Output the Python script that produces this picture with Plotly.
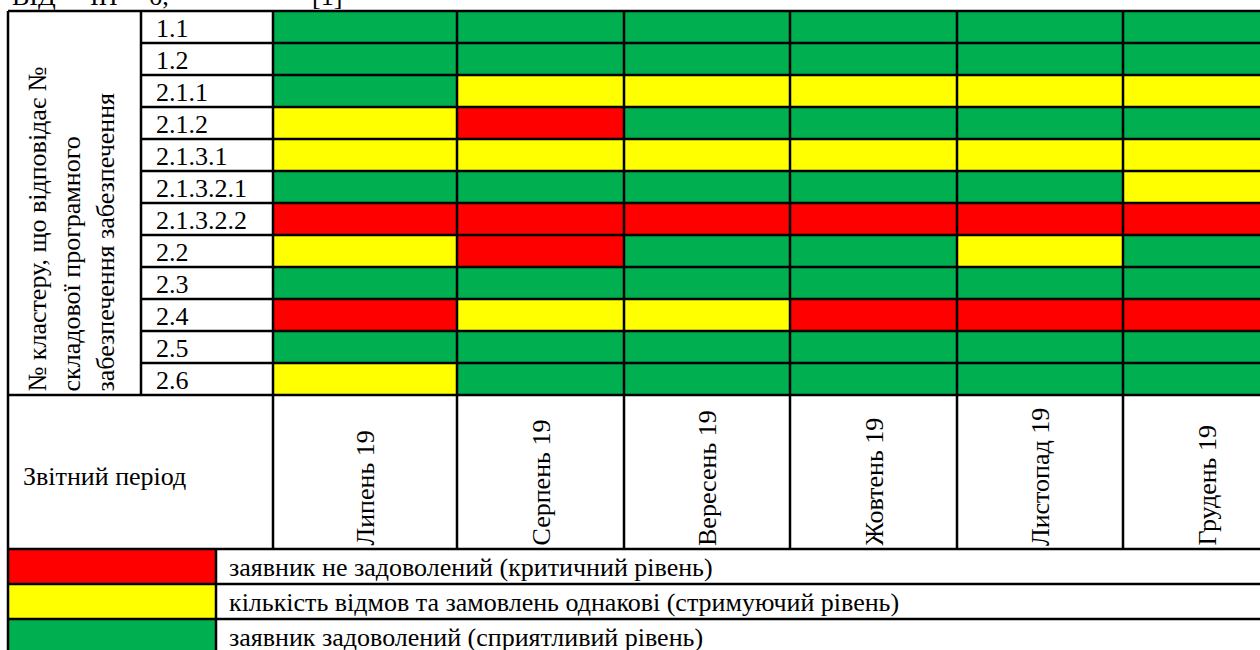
import plotly.graph_objects as go

# ---------------- data ----------------
months = ["Липень 19", "Серпень 19", "Вересень 19", "Жовтень 19", "Листопад 19", "Грудень 19"]
clusters = ["1.1", "1.2", "2.1.1", "2.1.2", "2.1.3.1", "2.1.3.2.1", "2.1.3.2.2",
            "2.2", "2.3", "2.4", "2.5", "2.6"]
# R = critical, Y = restraining, G = favourable
status = [
    ["G", "G", "G", "G", "G", "G"],
    ["G", "G", "G", "G", "G", "G"],
    ["G", "Y", "Y", "Y", "Y", "Y"],
    ["Y", "R", "G", "G", "G", "G"],
    ["Y", "Y", "Y", "Y", "Y", "Y"],
    ["G", "G", "G", "G", "G", "Y"],
    ["R", "R", "R", "R", "R", "R"],
    ["Y", "R", "G", "G", "Y", "G"],
    ["G", "G", "G", "G", "G", "G"],
    ["R", "Y", "Y", "R", "R", "R"],
    ["G", "G", "G", "G", "G", "G"],
    ["Y", "G", "G", "G", "G", "G"],
]
legend_levels = ["R", "Y", "G"]
legend_labels = [
    "заявник не задоволений (критичний рівень)",
    "кількість відмов та замовлень однакові (стримуючий рівень)",
    "заявник задоволений (сприятливий рівень)",
]
y_title_lines = ["№ кластеру, що відповідає №", "складової програмного", "забезпечення забезпечення"]
period_label = "Звітний період"

# ---------------- layout constants ----------------
W, H = 1260, 650
FONT = "Liberation Serif, Times New Roman, serif"
FS = 26
code = {"R": 0, "Y": 1, "G": 2}
RED, YEL, GRN = "#FF0000", "#FFFF00", "#00B050"
cscale = [[0, RED], [1/3, RED], [1/3, YEL], [2/3, YEL], [2/3, GRN], [1, GRN]]

x_left = 8
x_lab = 141
x_grid = 273
col_w = [184, 167, 166, 167, 166, 167]
x_edges = [x_grid]
for w in col_w:
    x_edges.append(x_edges[-1] + w)
y_top = 11
row_h = 32
y_edges = [y_top + i * row_h for i in range(len(clusters) + 1)]
y_head_bot = 549
leg_h = 35
leg_edges = [y_head_bot + i * leg_h for i in range(len(legend_levels) + 1)]
x_leg = 216

fig = go.Figure()

fig.add_trace(go.Heatmap(
    x=x_edges, y=y_edges,
    z=[[code[s] for s in row] for row in status],
    colorscale=cscale, zmin=0, zmax=2, showscale=False, hoverinfo="skip",
))
fig.add_trace(go.Heatmap(
    x=[x_left, x_leg], y=leg_edges,
    z=[[code[s]] for s in legend_levels],
    colorscale=cscale, zmin=0, zmax=2, showscale=False, hoverinfo="skip",
))

shapes = []
def line(x0, y0, x1, y1):
    shapes.append(dict(type="line", x0=x0, y0=y0, x1=x1, y1=y1, xref="x", yref="y",
                       line=dict(color="black", width=2.5), layer="above"))

# horizontal lines
line(x_left, y_top, W + 40, y_top)
for y in y_edges[1:-1]:
    line(x_lab, y, W + 40, y)
line(x_left, y_edges[-1], W + 40, y_edges[-1])
for y in leg_edges[:-1]:
    line(x_left, y, W + 40, y)
# vertical lines
line(x_left, y_top, x_left, H + 20)
line(x_lab, y_top, x_lab, y_edges[-1])
for x in x_edges[:-1]:
    line(x, y_top, x, y_head_bot)
line(x_leg, y_head_bot, x_leg, H + 20)

ann = []
# row labels
for i, c in enumerate(clusters):
    ann.append(dict(x=x_lab + 13, y=(y_edges[i] + y_edges[i + 1]) / 2 + 1, text=c,
                    xanchor="left", yanchor="middle", showarrow=False,
                    font=dict(family=FONT, size=FS, color="black")))
# rotated left title
for xc, t in zip([37, 71, 105], y_title_lines):
    ann.append(dict(x=xc, y=y_edges[-1] - 1, text=t, textangle=-90,
                    xanchor="center", yanchor="bottom", showarrow=False,
                    font=dict(family=FONT, size=FS, color="black")))
# period label
ann.append(dict(x=x_left + 13, y=(y_edges[-1] + y_head_bot) / 2 + 4, text=period_label,
                xanchor="left", yanchor="middle", showarrow=False,
                font=dict(family=FONT, size=FS, color="black")))
# month labels
for j, m in enumerate(months):
    ann.append(dict(x=(x_edges[j] + x_edges[j + 1]) / 2, y=y_head_bot - 1, text=m,
                    textangle=-90, xanchor="center", yanchor="bottom", showarrow=False,
                    font=dict(family=FONT, size=FS, color="black")))
# legend labels
for k, lab in enumerate(legend_labels):
    ann.append(dict(x=x_leg + 11, y=(leg_edges[k] + leg_edges[k + 1]) / 2 + 1, text=lab,
                    xanchor="left", yanchor="middle", showarrow=False,
                    font=dict(family=FONT, size=FS, color="black")))
# clipped line of text above table
for xp, t in [(10, "ВІД"), (88, "ІН"), (147, "б,"), (310, "[1]")]:
    ann.append(dict(x=xp / W, y=1 - 13 / H, xref="paper", yref="paper", text=t,
                    xanchor="left", yanchor="bottom", showarrow=False,
                    font=dict(family=FONT, size=26, color="black")))

fig.update_layout(
    width=W, height=H, margin=dict(l=0, r=0, t=0, b=0),
    paper_bgcolor="white", plot_bgcolor="white",
    xaxis=dict(range=[0, W], visible=False, fixedrange=True),
    yaxis=dict(range=[H, 0], visible=False, fixedrange=True),
    shapes=shapes, annotations=ann, showlegend=False,
)
fig.write_html("out.html", config={"displayModeBar": False},
               post_script="document.body.style.margin='0';document.body.style.overflow='hidden';")
